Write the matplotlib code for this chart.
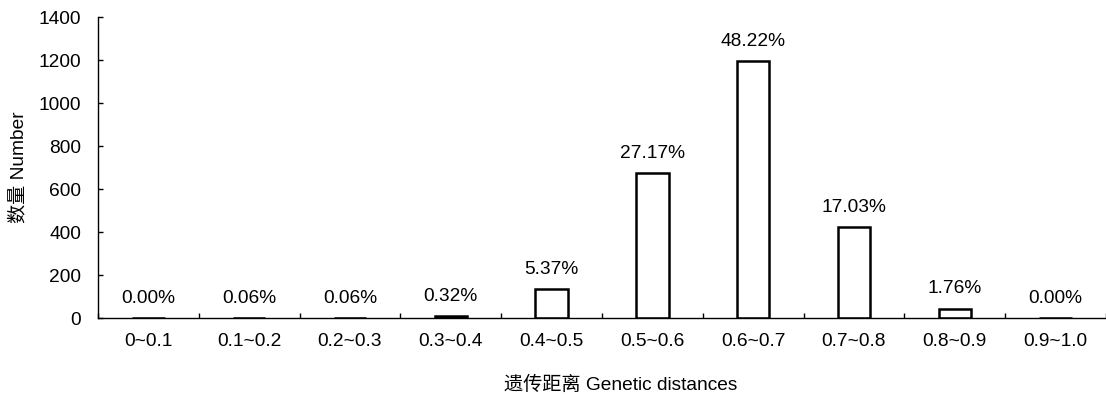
import matplotlib
matplotlib.use("Agg")
import matplotlib.pyplot as plt
import numpy as np

### data
categories = ["0~0.1", "0.1~0.2", "0.2~0.3", "0.3~0.4", "0.4~0.5",
              "0.5~0.6", "0.6~0.7", "0.7~0.8", "0.8~0.9", "0.9~1.0"]
counts = [0, 1.5, 1.5, 8, 133, 674, 1196, 422, 44, 0]
percents = ["0.00%", "0.06%", "0.06%", "0.32%", "5.37%",
            "27.17%", "48.22%", "17.03%", "1.76%", "0.00%"]

plt.rcParams["font.family"] = ["Liberation Sans", "Noto Sans CJK SC", "DejaVu Sans"]
fs = 13.8

fig = plt.figure(figsize=(11.06, 3.98), dpi=100)
ax = fig.add_axes([0.0886, 0.201, 0.9114, 0.756])

x = np.arange(len(categories))
ax.bar(x, counts, width=0.32, color="white", edgecolor="black", linewidth=1.8)

### percent labels above bars
for xi, c, p in zip(x, counts, percents):
    ax.annotate(p, (xi, c), xytext=(0, 8), textcoords="offset points",
                ha="center", va="bottom", fontsize=fs)

ax.set_xlim(-0.5, len(categories) - 0.5)
ax.set_ylim(0, 1400)
ax.set_yticks(np.arange(0, 1401, 200))
ax.set_xticks(x)
ax.set_xticklabels(categories)
ax.set_xticks(np.arange(-0.5, len(categories), 1.0), minor=True)
ax.tick_params(axis="x", which="major", length=0, pad=11, labelsize=fs)
ax.tick_params(axis="x", which="minor", length=3.6, direction="in", width=1)
ax.tick_params(axis="y", length=3.6, direction="in", width=1, labelsize=fs, pad=12)

for s in ["top", "right"]:
    ax.spines[s].set_visible(False)
for s in ["left", "bottom"]:
    ax.spines[s].set_linewidth(1.0)

ax.set_ylabel("数量 Number", fontsize=fs, labelpad=8)
ax.set_xlabel("遗传距离 Genetic distances", fontsize=fs, labelpad=18)
ax.xaxis.label.set_x(0.519)

plt.savefig("out.png", dpi=100)
plt.close()
